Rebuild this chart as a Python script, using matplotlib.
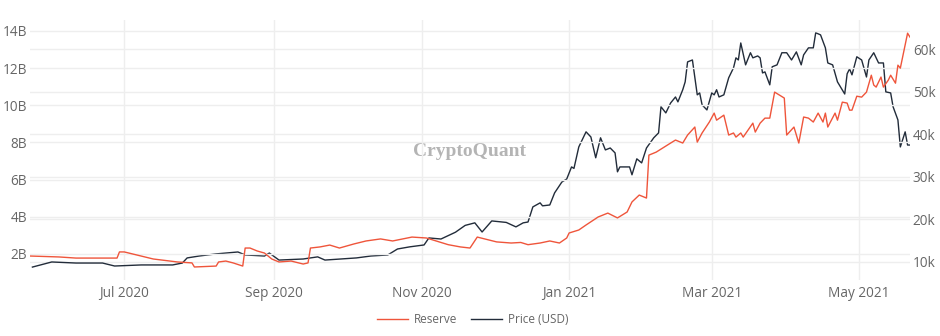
import matplotlib
matplotlib.use("Agg")
import matplotlib.pyplot as plt
import numpy as np
import pandas as pd
from matplotlib.ticker import FuncFormatter

# reserve, billions
res_dates = ["2020-05-23", "2020-06-04", "2020-06-11", "2020-06-28", "2020-06-29", "2020-07-01",
             "2020-07-13", "2020-07-23", "2020-07-29", "2020-07-30", "2020-08-08", "2020-08-09",
             "2020-08-12", "2020-08-15", "2020-08-19", "2020-08-20", "2020-08-22", "2020-08-25",
             "2020-08-28", "2020-08-31", "2020-09-03", "2020-09-08", "2020-09-13", "2020-09-15",
             "2020-09-16", "2020-09-20", "2020-09-24", "2020-09-28", "2020-10-04", "2020-10-09",
             "2020-10-15", "2020-10-20", "2020-10-28", "2020-11-03", "2020-11-07", "2020-11-12",
             "2020-11-17", "2020-11-21", "2020-11-24", "2020-12-02", "2020-12-08", "2020-12-12",
             "2020-12-15", "2020-12-20", "2020-12-24", "2020-12-28", "2020-12-31", "2021-01-01",
             "2021-01-05", "2021-01-08", "2021-01-13", "2021-01-17", "2021-01-21", "2021-01-25",
             "2021-01-27", "2021-01-30", "2021-02-02", "2021-02-03", "2021-02-06", "2021-02-12",
             "2021-02-14", "2021-02-17", "2021-02-19", "2021-02-22", "2021-02-23", "2021-02-25",
             "2021-02-28", "2021-03-02", "2021-03-03", "2021-03-06", "2021-03-08", "2021-03-10",
             "2021-03-11", "2021-03-13", "2021-03-14", "2021-03-18", "2021-03-19", "2021-03-21",
             "2021-03-23", "2021-03-25", "2021-03-27", "2021-03-29", "2021-03-31", "2021-04-01",
             "2021-04-04", "2021-04-06", "2021-04-08", "2021-04-10", "2021-04-12", "2021-04-14",
             "2021-04-16", "2021-04-17", "2021-04-18", "2021-04-21", "2021-04-22", "2021-04-24",
             "2021-04-26", "2021-04-27", "2021-04-28", "2021-04-30", "2021-05-02", "2021-05-04",
             "2021-05-06", "2021-05-07", "2021-05-08", "2021-05-10", "2021-05-11", "2021-05-13",
             "2021-05-14", "2021-05-16", "2021-05-17", "2021-05-18", "2021-05-21", "2021-05-22"]
reserve = [1.89, 1.84, 1.78, 1.78, 2.11, 2.11,
           1.73, 1.57, 1.52, 1.30, 1.35, 1.57,
           1.62, 1.52, 1.35, 2.32, 2.32, 2.16,
           2.05, 1.73, 1.57, 1.62, 1.46, 1.52,
           2.32, 2.38, 2.48, 2.32, 2.54, 2.70,
           2.81, 2.70, 2.91, 2.86, 2.70, 2.50,
           2.38, 2.32, 2.91, 2.65, 2.59, 2.62,
           2.50, 2.59, 2.70, 2.59, 2.86, 3.13,
           3.29, 3.56, 3.99, 4.20, 3.94, 4.26,
           4.80, 5.17, 5.01, 7.32, 7.48, 7.97,
           8.13, 7.97, 8.40, 8.83, 8.02, 8.51,
           9.10, 9.58, 9.20, 9.47, 8.40, 8.51,
           8.29, 8.51, 8.29, 9.04, 8.56, 9.04,
           9.31, 9.31, 10.71, 10.55, 10.39, 8.40,
           8.83, 7.97, 9.37, 9.31, 9.10, 9.58,
           9.10, 9.58, 8.83, 9.58, 9.20, 10.17,
           10.12, 9.74, 9.74, 10.49, 10.44, 10.71,
           11.62, 11.09, 10.98, 11.52, 10.98, 11.35,
           11.62, 11.19, 12.16, 12.00, 13.88, 13.67]

# price, thousands of USD
price_dates = ["2020-05-24", "2020-06-01", "2020-06-11", "2020-06-22", "2020-06-27", "2020-07-08",
               "2020-07-21", "2020-07-25", "2020-07-27", "2020-08-01", "2020-08-08", "2020-08-17",
               "2020-08-20", "2020-08-28", "2020-08-30", "2020-09-03", "2020-09-13", "2020-09-19",
               "2020-09-22", "2020-10-05", "2020-10-11", "2020-10-18", "2020-10-22", "2020-10-27",
               "2020-11-02", "2020-11-04", "2020-11-09", "2020-11-15", "2020-11-19", "2020-11-23",
               "2020-11-26", "2020-11-30", "2020-12-06", "2020-12-10", "2020-12-13", "2020-12-15",
               "2020-12-17", "2020-12-20", "2020-12-21", "2020-12-24", "2020-12-26", "2020-12-29",
               "2020-12-31", "2021-01-02", "2021-01-03", "2021-01-05", "2021-01-08", "2021-01-10",
               "2021-01-12", "2021-01-14", "2021-01-16", "2021-01-18", "2021-01-20", "2021-01-21",
               "2021-01-22", "2021-01-26", "2021-01-27", "2021-01-29", "2021-01-31", "2021-02-02",
               "2021-02-05", "2021-02-07", "2021-02-08", "2021-02-10", "2021-02-12", "2021-02-14",
               "2021-02-15", "2021-02-17", "2021-02-18", "2021-02-19", "2021-02-21", "2021-02-23",
               "2021-02-24", "2021-02-25", "2021-02-27", "2021-03-01", "2021-03-02", "2021-03-03",
               "2021-03-04", "2021-03-06", "2021-03-08", "2021-03-10", "2021-03-11", "2021-03-12",
               "2021-03-13", "2021-03-15", "2021-03-17", "2021-03-18", "2021-03-20", "2021-03-21",
               "2021-03-22", "2021-03-23", "2021-03-25", "2021-03-26", "2021-03-28", "2021-03-30",
               "2021-04-01", "2021-04-03", "2021-04-05", "2021-04-07", "2021-04-08", "2021-04-10",
               "2021-04-12", "2021-04-13", "2021-04-15", "2021-04-17", "2021-04-18", "2021-04-20",
               "2021-04-22", "2021-04-25", "2021-04-26", "2021-04-27", "2021-04-28", "2021-04-30",
               "2021-05-02", "2021-05-04", "2021-05-05", "2021-05-07", "2021-05-09", "2021-05-11",
               "2021-05-12", "2021-05-14", "2021-05-15", "2021-05-17", "2021-05-18", "2021-05-20",
               "2021-05-21", "2021-05-22"]
price = [8.8, 10.0, 9.75, 9.75, 9.05, 9.3,
         9.3, 9.75, 10.95, 11.4, 11.9, 12.35,
         11.65, 11.4, 12.1, 10.45, 10.7, 11.2,
         10.45, 10.95, 11.4, 11.65, 13.05, 13.55,
         14.0, 15.65, 15.4, 17.0, 18.6, 19.2,
         17.05, 19.65, 19.3, 18.25, 19.2, 19.4,
         22.95, 23.9, 23.2, 23.4, 26.25, 28.8,
         29.5, 32.35, 32.0, 37.05, 40.6, 39.4,
         34.5, 39.2, 36.35, 36.8, 35.65, 31.2,
         32.35, 32.35, 30.5, 34.25, 33.3, 36.8,
         39.2, 40.35, 46.5, 45.05, 47.4, 48.8,
         47.65, 50.5, 52.35, 57.05, 57.5, 49.3,
         49.75, 46.95, 45.75, 49.75, 49.3, 50.5,
         48.8, 49.3, 53.3, 55.65, 58.0, 57.5,
         61.5, 56.35, 59.2, 58.0, 58.45, 58.0,
         54.45, 54.7, 51.65, 55.9, 56.35, 59.2,
         59.2, 57.5, 59.4, 56.35, 58.7, 60.35,
         60.35, 63.9, 63.4, 60.35, 56.8, 56.35,
         52.35, 49.5, 54.25, 55.4, 54.0, 58.25,
         57.5, 53.5, 57.5, 59.2, 56.8, 56.8,
         50.0, 49.75, 46.5, 43.4, 37.05, 40.6,
         37.5, 37.5]

x_ticks = ["2020-07-01", "2020-09-01", "2020-11-01", "2021-01-01", "2021-03-01", "2021-05-01"]
x_labels = ["Jul 2020", "Sep 2020", "Nov 2020", "Jan 2021", "Mar 2021", "May 2021"]

red = "#ef553b"
dark = "#222c3a"
grid = "#eeeeee"
lab = "#666666"

plt.rcParams["font.family"] = ["Open Sans", "DejaVu Sans"]

fig = plt.figure(figsize=(9.4, 3.36), dpi=100)
ax2 = fig.add_axes([30 / 940, 1 - 280 / 336, 880 / 940, 260 / 336])
ax1 = ax2.twinx()
ax1.set_zorder(ax2.get_zorder() + 1)
ax1.patch.set_visible(False)

l2, = ax2.plot(pd.to_datetime(price_dates), price, color=dark, lw=1.0, label="Price (USD)")
l1, = ax1.plot(pd.to_datetime(res_dates), reserve, color=red, lw=1.0, label="Reserve")

ax2.set_xlim(pd.Timestamp("2020-05-23"), pd.Timestamp("2021-05-22"))
ax1.set_ylim(0.60, 14.59)
ax2.set_ylim(5.76, 66.9)

# left axis = reserve, right axis = price
ax1.yaxis.tick_left()
ax2.yaxis.tick_right()
ax1.set_yticks([2, 4, 6, 8, 10, 12, 14])
ax1.yaxis.set_major_formatter(FuncFormatter(lambda v, p: "%dB" % v))
ax2.set_yticks([10, 20, 30, 40, 50, 60])
ax2.yaxis.set_major_formatter(FuncFormatter(lambda v, p: "%dk" % v))
ax2.set_xticks(pd.to_datetime(x_ticks))
ax2.set_xticklabels(x_labels)

for a in (ax1, ax2):
    for s in a.spines.values():
        s.set_visible(False)
    a.tick_params(length=0, labelsize=9.8, colors=lab)
ax1.tick_params(axis="y", pad=2)
ax2.tick_params(axis="y", pad=2)
ax2.tick_params(axis="x", pad=4)

ax2.grid(True, color=grid, lw=1)
ax1.grid(True, axis="y", color=grid, lw=1)
ax2.set_axisbelow(True)
ax1.set_axisbelow(True)

ax2.text(0.5, 0.495, "CryptoQuant", transform=ax2.transAxes, ha="center", va="center",
         fontsize=14, fontweight="bold", family="Liberation Serif", color="#b4b4b4", zorder=0)

fig.legend([l1, l2], ["Reserve", "Price (USD)"], loc="center", bbox_to_anchor=(0.503, 0.048),
           ncol=2, frameon=False, fontsize=8.5, handlelength=2.6, columnspacing=1.2,
           handletextpad=0.5, labelcolor=lab)

fig.savefig("out.png", dpi=100)
